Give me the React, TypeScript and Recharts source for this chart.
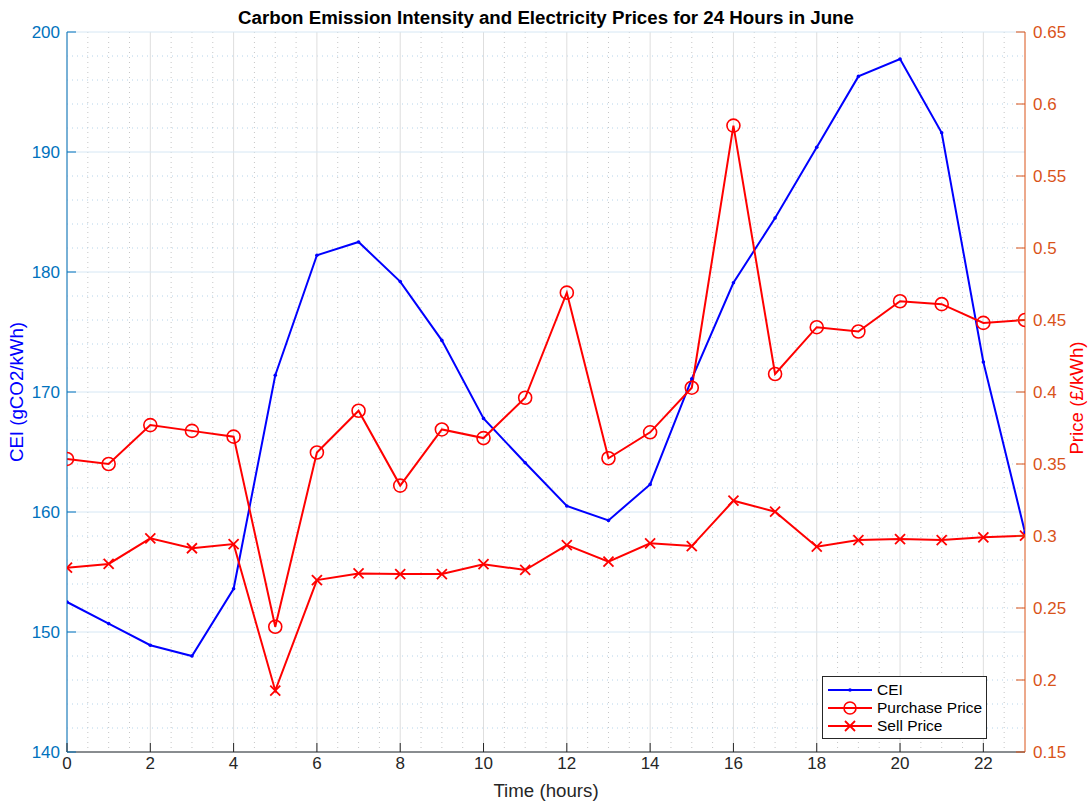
import { LineChart, Line, XAxis, YAxis, CartesianGrid, Legend } from 'recharts';

// hours 0..23
const hours = [0, 1, 2, 3, 4, 5, 6, 7, 8, 9, 10, 11, 12, 13, 14, 15, 16, 17, 18, 19, 20, 21, 22, 23];

// carbon emission intensity (gCO2/kWh)
const cei = [
  152.5, 150.7, 148.9, 148.0, 153.6, 171.4, 181.4, 182.5, 179.2, 174.3, 167.8, 164.1,
  160.5, 159.3, 162.3, 171.1, 179.1, 184.5, 190.4, 196.3, 197.75, 191.6, 172.5, 158.3,
];

// prices (£/kWh)
const purchasePrice = [
  0.3535, 0.35, 0.377, 0.373, 0.369, 0.237, 0.358, 0.387, 0.335, 0.374, 0.368, 0.396,
  0.469, 0.354, 0.372, 0.403, 0.585, 0.4125, 0.445, 0.442, 0.463, 0.461, 0.448, 0.45,
];
const sellPrice = [
  0.278, 0.2806, 0.2984, 0.2915, 0.2944, 0.1926, 0.2694, 0.274, 0.2736, 0.2736, 0.2804, 0.2764,
  0.2937, 0.2822, 0.2949, 0.293, 0.3245, 0.3169, 0.2926, 0.2972, 0.2979, 0.2972, 0.2991, 0.3002,
];

const hourTicks = [0, 2, 4, 6, 8, 10, 12, 14, 16, 18, 20, 22];
const ceiTicks = [140, 150, 160, 170, 180, 190, 200];
const priceTicks = [0.15, 0.2, 0.25, 0.3, 0.35, 0.4, 0.45, 0.5, 0.55, 0.6, 0.65];

// minor grid positions
const minorHours = Array.from({ length: 46 }, (_, i) => (i + 1) / 2).filter((h) => h % 2 !== 0 && h < 23);
const minorCei = Array.from({ length: 29 }, (_, i) => 142 + i * 2).filter((v) => v % 10 !== 0);

const data = hours.map((h, i) => ({
  hour: h,
  cei: cei[i],
  purchase: purchasePrice[i],
  sell: sellPrice[i],
}));

const BLUE_AXIS = '#0072BD';
const ORANGE_AXIS = '#D95319';
const DARK = '#262626';
const TICK_FONT = 17;
const LABEL_FONT = 18.7;

const fmtPrice = (v: number) => String(Number(v.toFixed(2)));

const BottomTick = (props: any) => {
  const { x, y, payload } = props;
  return (
    <g>
      <line x1={x} y1={y - 5} x2={x} y2={y - 14} stroke={DARK} strokeWidth={1} />
      <text x={x} y={y} dy="0.71em" textAnchor="middle" fill={DARK} fontSize={TICK_FONT}>
        {payload.value}
      </text>
    </g>
  );
};

const TopTick = (props: any) => {
  const { x, y } = props;
  return <line x1={x} y1={y} x2={x} y2={y + 9} stroke={DARK} strokeWidth={1} />;
};

const LeftTick = (props: any) => {
  const { x, y, payload } = props;
  return (
    <g>
      <line x1={x + 7} y1={y} x2={x + 16} y2={y} stroke={BLUE_AXIS} strokeWidth={1} />
      <text x={x} y={y} dy="0.355em" textAnchor="end" fill={BLUE_AXIS} fontSize={TICK_FONT}>
        {payload.value}
      </text>
    </g>
  );
};

const RightTick = (props: any) => {
  const { x, y, payload } = props;
  return (
    <g>
      <line x1={x - 8} y1={y} x2={x - 17} y2={y} stroke={ORANGE_AXIS} strokeWidth={1} />
      <text x={x} y={y} dy="0.355em" textAnchor="start" fill={ORANGE_AXIS} fontSize={TICK_FONT}>
        {fmtPrice(payload.value)}
      </text>
    </g>
  );
};

const CeiDot = (p: any) => (
  <circle key={`cei-${p.index}`} cx={p.cx} cy={p.cy} r={1.8} fill="#0000FF" stroke="none" />
);

const CircleDot = (p: any) => (
  <circle key={`pp-${p.index}`} cx={p.cx} cy={p.cy} r={6.5} fill="none" stroke="#FF0000" strokeWidth={1.6} />
);

const CrossDot = (p: any) => (
  <g key={`sp-${p.index}`} stroke="#FF0000" strokeWidth={1.8}>
    <line x1={p.cx - 5} y1={p.cy - 5} x2={p.cx + 5} y2={p.cy + 5} />
    <line x1={p.cx - 5} y1={p.cy + 5} x2={p.cx + 5} y2={p.cy - 5} />
  </g>
);

const legendItems = [
  { label: 'CEI', color: '#0000FF', marker: 'dot' },
  { label: 'Purchase Price', color: '#FF0000', marker: 'circle' },
  { label: 'Sell Price', color: '#FF0000', marker: 'cross' },
];

const renderLegend = () => (
  <div
    style={{
      width: 165,
      height: 63,
      boxSizing: 'border-box',
      border: `1px solid ${DARK}`,
      background: '#fff',
      padding: '4px 0 0 4px',
      fontSize: 15.5,
      color: '#000',
    }}
  >
    {legendItems.map((item) => (
      <div key={item.label} style={{ display: 'flex', alignItems: 'center', height: 18 }}>
        <svg width={50} height={16} style={{ display: 'block' }}>
          <line x1={1} y1={8} x2={45} y2={8} stroke={item.color} strokeWidth={2} />
          {item.marker === 'dot' && <circle cx={23} cy={8} r={1.8} fill={item.color} />}
          {item.marker === 'circle' && (
            <circle cx={23} cy={8} r={6} fill="none" stroke={item.color} strokeWidth={1.6} />
          )}
          {item.marker === 'cross' && (
            <g stroke={item.color} strokeWidth={1.8}>
              <line x1={18} y1={3} x2={28} y2={13} />
              <line x1={18} y1={13} x2={28} y2={3} />
            </g>
          )}
        </svg>
        <span>{item.label}</span>
      </div>
    ))}
  </div>
);

export default function App() {
  return (
    <div
      style={{
        position: 'absolute',
        left: 0,
        top: 0,
        width: 1088,
        height: 805,
        background: '#fff',
        fontFamily: '"Liberation Sans", Arial, sans-serif',
      }}
    >
      <LineChart width={1088} height={805} data={data} margin={{ top: 32, right: 0, bottom: 0, left: 0 }}>
        <CartesianGrid
          xAxisId="x"
          yAxisId="left"
          horizontal={false}
          verticalValues={minorHours}
          stroke="#c6c6c6"
          strokeDasharray="1 4"
        />
        <CartesianGrid
          xAxisId="x"
          yAxisId="left"
          vertical={false}
          horizontalValues={minorCei}
          stroke="#b6d4ea"
          strokeDasharray="1 4"
        />
        <CartesianGrid xAxisId="x" yAxisId="left" horizontal={false} verticalValues={hourTicks} stroke="#dedede" />
        <CartesianGrid xAxisId="x" yAxisId="left" vertical={false} horizontalValues={ceiTicks} stroke="#d6e7f4" />

        <XAxis
          xAxisId="x"
          dataKey="hour"
          type="number"
          domain={[0, 23]}
          ticks={hourTicks}
          interval={0}
          height={53}
          tickSize={0}
          tickMargin={5}
          tickLine={false}
          tick={BottomTick}
          axisLine={{ stroke: DARK }}
          allowDataOverflow
        />
        <XAxis
          xAxisId="top"
          orientation="top"
          type="number"
          domain={[0, 23]}
          ticks={hourTicks}
          interval={0}
          height={0}
          tickSize={0}
          tickMargin={0}
          tickLine={false}
          tick={TopTick}
          axisLine={{ stroke: DARK }}
          allowDataOverflow
        />
        <YAxis
          yAxisId="left"
          orientation="left"
          type="number"
          domain={[140, 200]}
          ticks={ceiTicks}
          interval={0}
          width={67}
          tickSize={0}
          tickMargin={7}
          tickLine={false}
          tick={LeftTick}
          axisLine={{ stroke: BLUE_AXIS }}
          allowDataOverflow
        />
        <YAxis
          yAxisId="right"
          orientation="right"
          type="number"
          domain={[0.15, 0.65]}
          ticks={priceTicks}
          interval={0}
          width={63}
          tickSize={0}
          tickMargin={8}
          tickLine={false}
          tick={RightTick}
          axisLine={{ stroke: ORANGE_AXIS }}
          allowDataOverflow
        />

        <Line
          xAxisId="x"
          yAxisId="left"
          type="linear"
          dataKey="cei"
          name="CEI"
          stroke="#0000FF"
          strokeWidth={2}
          dot={CeiDot}
          activeDot={false}
          isAnimationActive={false}
        />
        <Line
          xAxisId="x"
          yAxisId="right"
          type="linear"
          dataKey="purchase"
          name="Purchase Price"
          stroke="#FF0000"
          strokeWidth={2}
          dot={CircleDot}
          activeDot={false}
          isAnimationActive={false}
        />
        <Line
          xAxisId="x"
          yAxisId="right"
          type="linear"
          dataKey="sell"
          name="Sell Price"
          stroke="#FF0000"
          strokeWidth={2}
          dot={CrossDot}
          activeDot={false}
          isAnimationActive={false}
        />

        <Legend
          layout="vertical"
          align="center"
          verticalAlign="middle"
          content={renderLegend}
          wrapperStyle={{ position: 'absolute', left: 822, top: 676, width: 165, height: 63 }}
        />
      </LineChart>

      <div
        style={{
          position: 'absolute',
          left: 67,
          width: 958,
          top: 7,
          textAlign: 'center',
          fontWeight: 'bold',
          fontSize: LABEL_FONT,
          color: '#000',
          lineHeight: '22px',
        }}
      >
        Carbon Emission Intensity and Electricity Prices for 24 Hours in June
      </div>
      <div
        style={{
          position: 'absolute',
          left: 67,
          width: 958,
          top: 780,
          textAlign: 'center',
          fontSize: LABEL_FONT,
          color: DARK,
          lineHeight: '22px',
        }}
      >
        Time (hours)
      </div>
      <div
        style={{
          position: 'absolute',
          left: 17,
          top: 392,
          transform: 'translate(-50%, -50%) rotate(-90deg)',
          whiteSpace: 'nowrap',
          fontSize: LABEL_FONT,
          color: '#0000FF',
          lineHeight: '22px',
        }}
      >
        CEI (gCO2/kWh)
      </div>
      <div
        style={{
          position: 'absolute',
          left: 1077,
          top: 398,
          transform: 'translate(-50%, -50%) rotate(-90deg)',
          whiteSpace: 'nowrap',
          fontSize: LABEL_FONT,
          color: '#FF0000',
          lineHeight: '22px',
        }}
      >
        Price (£/kWh)
      </div>
    </div>
  );
}
